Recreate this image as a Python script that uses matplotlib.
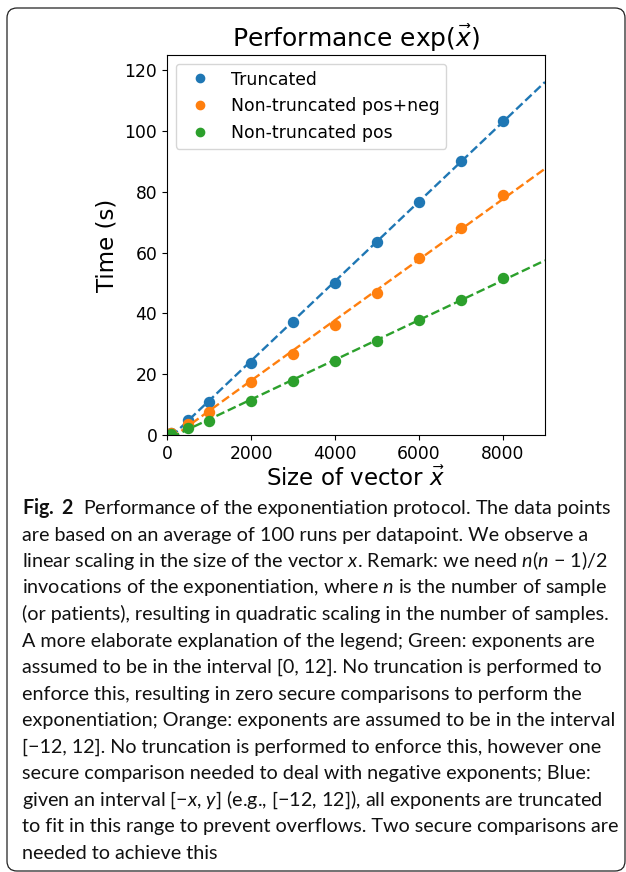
import matplotlib
matplotlib.use("Agg")
import matplotlib.pyplot as plt
import numpy as np
from matplotlib.patches import FancyBboxPatch
from matplotlib.transforms import IdentityTransform

# ---------------- data ----------------
vector_sizes = [100, 500, 1000, 2000, 3000, 4000, 5000, 6000, 7000, 8000]
time_truncated = [0.6, 4.9, 10.8, 23.8, 37.1, 50.1, 63.5, 76.8, 90.2, 103.4]
time_pos_neg = [0.5, 3.6, 7.7, 17.5, 26.7, 36.3, 46.6, 58.1, 68.2, 78.8]
time_pos = [0.3, 2.2, 4.7, 11.2, 17.6, 24.3, 31.0, 37.8, 44.5, 51.5]
series_labels = ["Truncated", "Non-truncated pos+neg", "Non-truncated pos"]
x_ticks = [0, 2000, 4000, 6000, 8000]
y_ticks = [0, 20, 40, 60, 80, 100, 120]
fit_range = [100, 9000]

caption_lines = [
    r"$\mathbf{Fig.}$ $\mathbf{2}$  Performance of the exponentiation protocol. The data points",
    "are based on an average of 100 runs per datapoint. We observe a",
    "linear scaling in the size of the vector $x$. Remark: we need $n$($n$ \u2212 1)/2",
    r"invocations of the exponentiation, where $n$ is the number of sample",
    "(or patients), resulting in quadratic scaling in the number of samples.",
    "A more elaborate explanation of the legend; Green: exponents are",
    "assumed to be in the interval [0, 12]. No truncation is performed to",
    "enforce this, resulting in zero secure comparisons to perform the",
    "exponentiation; Orange: exponents are assumed to be in the interval",
    "[\u221212, 12]. No truncation is performed to enforce this, however one",
    "secure comparison needed to deal with negative exponents; Blue:",
    "given an interval [\u2212$x$, $y$] (e.g., [\u221212, 12]), all exponents are truncated",
    "to fit in this range to prevent overflows. Two secure comparisons are",
    "needed to achieve this",
]

colors = ["#1f77b4", "#ff7f0e", "#2ca02c"]

plt.rcParams['mathtext.rm'] = 'Lato'
plt.rcParams['mathtext.it'] = 'Lato:italic'
plt.rcParams['mathtext.bf'] = 'Lato:bold'
plt.rcParams['mathtext.fontset'] = 'dejavusans'

W, H = 626, 872
fig = plt.figure(figsize=(W / 100, H / 100), dpi=100)
fig.patch.set_facecolor("white")

ax = fig.add_axes([167 / W, 1 - 435 / H, (545 - 167) / W, (435 - 55) / H])

for ys, c, lab in zip([time_truncated, time_pos_neg, time_pos], colors, series_labels):
    ax.plot(vector_sizes, ys, 'o', color=c, markersize=7.2, label=lab)
    coef = np.polyfit(vector_sizes, ys, 1)
    xf = np.array(fit_range, dtype=float)
    ax.plot(xf, np.polyval(coef, xf), '--', color=c, lw=1.7)

ax.set_xlim(0, 9000)
ax.set_ylim(0, 125)
ax.set_xticks(x_ticks)
ax.set_yticks(y_ticks)
ax.tick_params(labelsize=12.3)
ax.set_title(r"Performance exp($\vec{x}$)", fontsize=18)
ax.set_xlabel(r"Size of vector $\vec{x}$", fontsize=16.5, labelpad=3)
ax.set_ylabel("Time (s)", fontsize=16.5)
ax.legend(loc="upper left", fontsize=12.4, markerscale=0.83)

# frame around the figure
frame = FancyBboxPatch((7, 1), 618, 863, boxstyle="round,pad=0,rounding_size=10",
                       transform=IdentityTransform(), fill=False,
                       edgecolor="#222222", lw=0.9)
fig.patches.append(frame)

# caption
renderer = fig.canvas.get_renderer()
widths = []
for line in caption_lines:
    probe = fig.text(0, 0, line, fontsize=13, family=["Lato", "DejaVu Sans"],
                     math_fontfamily="custom")
    widths.append(probe.get_window_extent(renderer).width)
    probe.remove()
cap_size = 13 * 597 / max(widths)

base0 = 514
step = 26.5
for i, line in enumerate(caption_lines):
    fig.text(22 / W, 1 - (base0 + i * step) / H, line, fontsize=cap_size,
             family=["Lato", "DejaVu Sans"], math_fontfamily="custom",
             va="baseline", ha="left", color="#111111")

fig.savefig("out.png", dpi=100)
